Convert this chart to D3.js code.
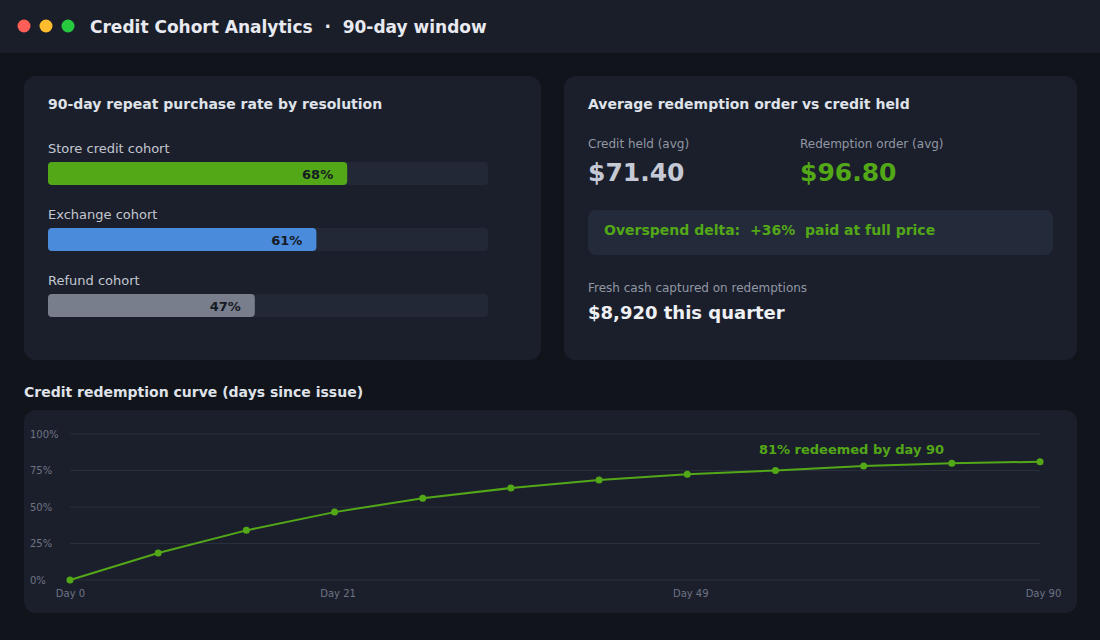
<!DOCTYPE html>
<html>
<head>
<meta charset="utf-8">
<script src="https://cdn.jsdelivr.net/npm/d3@7/dist/d3.min.js"></script>
<style>
	html, body { margin: 0; padding: 0; background: #11141b; }
	svg { display: block; font-family: "DejaVu Sans", sans-serif; }
</style>
</head>
<body>
<div id="view"></div>
<script>
// cohort bars
var cohorts= ["Store credit cohort", "Exchange cohort", "Refund cohort"];
var repeat_rate= [68, 61, 47];
var cohort_colors= ["#53a817", "#4a8bdc", "#787e8b"];

// redemption curve
var days= [0, 7, 14, 21, 28, 35, 42, 49, 56, 63, 70, 90];
var redeemed= [0, 18.5, 34, 46.5, 56, 63, 68.5, 72.5, 75, 78, 80, 81];
var day_ticks= [0, 21, 49, 90];
var pct_ticks= [0, 25, 50, 75, 100];

var green= "#53a817";

var width= 1100, height= 640;

var svg= d3.select("#view")
	.append("svg")
	.attr("width", width)
	.attr("height", height);

svg.append("rect").attr("width", width).attr("height", height).attr("fill", "#11141b");

// title bar
svg.append("rect").attr("width", width).attr("height", 53).attr("fill", "#1a1e29");
var dots= ["#ff5f56", "#ffbd2e", "#27c93f"];
dots.forEach(function(c, i) {
	svg.append("circle").attr("cx", 24+ i*22).attr("cy", 26).attr("r", 6.5).attr("fill", c);
});
svg.append("text")
	.attr("x", 90).attr("y", 33)
	.attr("fill", "#e8eaf0").attr("font-size", 17).attr("font-weight", "bold")
	.style("white-space", "pre")
	.text("Credit Cohort Analytics  \u00b7  90-day window");

// cards
function card(x, y, w, h) {
	svg.append("rect").attr("x", x).attr("y", y).attr("width", w).attr("height", h)
		.attr("rx", 12).attr("fill", "#1b1f2c");
}
card(24, 76, 517, 284);
card(564, 76, 513, 284);
card(24, 410, 1053, 203);

// left card: repeat purchase bars
svg.append("text").attr("x", 48).attr("y", 109)
	.attr("fill", "#dfe2e8").attr("font-size", 14).attr("font-weight", "bold")
	.text("90-day repeat purchase rate by resolution");

var bx= d3.scaleLinear().domain([0, 100]).range([48, 488]);
var row= d3.scalePoint().domain(cohorts).range([162, 294]);

var rows= svg.append("g").selectAll("g").data(cohorts).enter().append("g")
	.attr("transform", function(d) { return "translate(0," + row(d) + ")"; });

rows.append("text").attr("x", 48).attr("y", -9)
	.attr("fill", "#c3c7cf").attr("font-size", 13)
	.text(function(d) { return d; });
rows.append("rect").attr("x", bx(0)).attr("y", 0)
	.attr("width", bx(100)- bx(0)).attr("height", 23).attr("rx", 4)
	.attr("fill", "#232836");
rows.append("rect").attr("x", bx(0)).attr("y", 0)
	.attr("width", function(d, i) { return bx(repeat_rate[i])- bx(0); })
	.attr("height", 23).attr("rx", 4)
	.attr("fill", function(d, i) { return cohort_colors[i]; });
rows.append("text")
	.attr("x", function(d, i) { return bx(repeat_rate[i])- 14; })
	.attr("y", 16.5).attr("text-anchor", "end")
	.attr("fill", "#161a24").attr("font-size", 13).attr("font-weight", "bold")
	.text(function(d, i) { return repeat_rate[i] + "%"; });

// right card: redemption vs credit
svg.append("text").attr("x", 588).attr("y", 109)
	.attr("fill", "#dfe2e8").attr("font-size", 14).attr("font-weight", "bold")
	.text("Average redemption order vs credit held");

svg.append("text").attr("x", 588).attr("y", 148)
	.attr("fill", "#9197a3").attr("font-size", 12).text("Credit held (avg)");
svg.append("text").attr("x", 588).attr("y", 181)
	.attr("fill", "#c4c9d5").attr("font-size", 25).attr("font-weight", "bold").text("$71.40");
svg.append("text").attr("x", 800).attr("y", 148)
	.attr("fill", "#9197a3").attr("font-size", 12).text("Redemption order (avg)");
svg.append("text").attr("x", 800).attr("y", 181)
	.attr("fill", green).attr("font-size", 25).attr("font-weight", "bold").text("$96.80");

svg.append("rect").attr("x", 588).attr("y", 210).attr("width", 465).attr("height", 45)
	.attr("rx", 8).attr("fill", "#232a3a");
svg.append("text").attr("x", 604).attr("y", 235)
	.attr("fill", green).attr("font-size", 14).attr("font-weight", "bold")
	.style("white-space", "pre")
	.text("Overspend delta:  +36%  paid at full price");

svg.append("text").attr("x", 588).attr("y", 292)
	.attr("fill", "#9197a3").attr("font-size", 12).text("Fresh cash captured on redemptions");
svg.append("text").attr("x", 588).attr("y", 319)
	.attr("fill", "#eef0f4").attr("font-size", 18).attr("font-weight", "bold").text("$8,920 this quarter");

// bottom: redemption curve
svg.append("text").attr("x", 24).attr("y", 397)
	.attr("fill", "#dfe2e8").attr("font-size", 14).attr("font-weight", "bold")
	.text("Credit redemption curve (days since issue)");

var x= d3.scalePoint().domain(days).range([70, 1040]);
var y= d3.scaleLinear().domain([0, 100]).range([580, 434]);

var yAxis= svg.append("g")
	.call(d3.axisLeft(y).tickValues(pct_ticks).tickSize(0).tickFormat(function(d) { return d + "%"; }));
yAxis.select(".domain").remove();
yAxis.selectAll("text").attr("x", 30).attr("text-anchor", "start")
	.attr("fill", "#6e7484").attr("font-size", 10).attr("font-family", "DejaVu Sans");

svg.append("g").selectAll("line").data(pct_ticks).enter().append("line")
	.attr("x1", 70).attr("x2", 1040)
	.attr("y1", function(d) { return y(d); }).attr("y2", function(d) { return y(d); })
	.attr("stroke", "#2a2f3d").attr("stroke-width", 1);

var xAxis= svg.append("g").attr("transform", "translate(0,580)")
	.call(d3.axisBottom(x).tickValues(day_ticks).tickSize(0).tickPadding(10)
		.tickFormat(function(d) { return "Day " + d; }));
xAxis.select(".domain").remove();
xAxis.selectAll("text").attr("fill", "#6e7484").attr("font-size", 10).attr("font-family", "DejaVu Sans")
	.attr("dx", function(d) { return d > 0 ? 3 : 0; });

var pts= days.map(function(d, i) { return [d, redeemed[i]]; });

svg.append("path").datum(pts)
	.attr("fill", "none").attr("stroke", green).attr("stroke-width", 2)
	.attr("d", d3.line().x(function(d) { return x(d[0]); }).y(function(d) { return y(d[1]); }));

svg.append("g").selectAll("circle").data(pts).enter().append("circle")
	.attr("cx", function(d) { return x(d[0]); })
	.attr("cy", function(d) { return y(d[1]); })
	.attr("r", 3.5).attr("fill", green);

var last= pts[pts.length- 1];
svg.append("text")
	.attr("x", x(last[0])- 96).attr("y", y(last[1])- 8)
	.attr("text-anchor", "end")
	.attr("fill", green).attr("font-size", 13).attr("font-weight", "bold")
	.text(Math.round(last[1]) + "% redeemed by day 90");
</script>
</body>
</html>
